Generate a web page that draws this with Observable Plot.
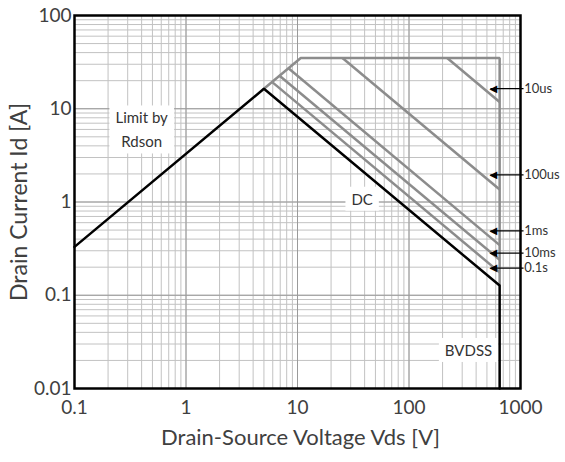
<!DOCTYPE html>
<html><head><meta charset="utf-8">
<script src="https://cdn.jsdelivr.net/npm/d3@7"></script>
<script src="https://cdn.jsdelivr.net/npm/@observablehq/plot@0.6"></script>
<style>body{margin:0;background:#fff} svg{display:block}</style>
</head><body><div id="chart"></div>
<script>
// axis ticks
const xTicks = [0.1, 1, 10, 100, 1000];
const xTickLabels = ["0.1", "1", "10", "100", "1000"];
const yTicks = [0.01, 0.1, 1, 10, 100];
const yTickLabels = ["0.01", "0.1", "1", "10", "100"];

// DC boundary (black): Rdson limit, power limit, BVDSS
const dcVds = [0.1, 5.0, 650, 650];
const dcId = [0.33, 16.4, 0.127, 0.01];

// pulsed envelope (gray): Rdson extension, Id pulse limit, BVDSS
const envVds = [5.0, 10.7, 650, 650];
const envId = [16.4, 35, 35, 0.127];

// single pulse power-limit lines
const pulseNames = ["10us", "100us", "1ms", "10ms", "0.1s"];
const pulseStartVds = [220, 25.3, 8.3, 6.9, 5.9];
const pulseStartId = [35, 35, 27.2, 22.6, 19.4];
const pulseEndVds = [650, 650, 650, 650, 650];
const pulseEndId = [11.8, 1.36, 0.345, 0.24, 0.176];

// callouts for pulse labels
const calloutTipVds = [537, 537, 537, 537, 537];
const calloutTailVds = [1065, 1065, 1065, 1065, 1065];
const calloutTextVds = [1080, 1080, 1080, 1080, 1080];
const calloutId = [16.4, 1.95, 0.49, 0.283, 0.195];

// in-plot notes
const noteTexts = ["Limit by\nRdson", "DC", "BVDSS"];
const noteVds = [0.4, 38, 342];
const noteId = [6.25, 1.13, 0.027];

const idx = (a) => a.map((_, i) => i);
const xMinor = d3.scaleLog().domain([0.1, 1000]).ticks();
const yMinor = d3.scaleLog().domain([0.01, 100]).ticks();

const plot = Plot.plot({
  width: 565,
  height: 462,
  marginLeft: 74,
  marginRight: 45,
  marginTop: 15,
  marginBottom: 74,
  style: {color: "#404040", fontFamily: "Lato, sans-serif", background: "white"},
  x: {type: "log", domain: [0.1, 1000]},
  y: {type: "log", domain: [0.01, 100]},
  marks: [
    Plot.ruleX(xMinor, {stroke: "#c2c2c2", strokeWidth: 1}),
    Plot.ruleY(yMinor, {stroke: "#c2c2c2", strokeWidth: 1}),
    Plot.ruleX(xTicks, {stroke: "#9a9a9a", strokeWidth: 1}),
    Plot.ruleY(yTicks, {stroke: "#9a9a9a", strokeWidth: 1}),
    Plot.axisX({ticks: xTicks, tickFormat: d => xTickLabels[xTicks.indexOf(d)], tickSize: 0, tickPadding: 12, fontSize: 19, label: null}),
    Plot.axisY({ticks: yTicks, tickFormat: d => yTickLabels[yTicks.indexOf(d)], tickSize: 0, tickPadding: 3, fontSize: 19, label: null}),
    Plot.text(["Drain-Source Voltage Vds [V]"], {frameAnchor: "bottom", textAnchor: "middle", lineAnchor: "middle", dy: 49, dx: 3, fontSize: 22, fill: "#404040"}),
    Plot.text(["Drain Current Id [A]"], {frameAnchor: "left", textAnchor: "middle", lineAnchor: "middle", rotate: -90, dx: -55, fontSize: 23, fill: "#404040"}),
    Plot.text(idx(noteTexts), {x: i => noteVds[i], y: i => noteId[i], text: i => noteTexts[i], fontSize: 15, lineHeight: 1.6, fill: "#333"}),
    Plot.line(idx(envVds), {x: i => envVds[i], y: i => envId[i], stroke: "#8c8c8c", strokeWidth: 2.5, strokeLinejoin: "miter"}),
    Plot.link(idx(pulseNames), {x1: i => pulseStartVds[i], y1: i => pulseStartId[i], x2: i => pulseEndVds[i], y2: i => pulseEndId[i], stroke: "#8c8c8c", strokeWidth: 2.5}),
    Plot.line(idx(dcVds), {x: i => dcVds[i], y: i => dcId[i], stroke: "#000", strokeWidth: 2.5, strokeLinejoin: "miter"}),
    Plot.link(idx(pulseNames), {x1: i => calloutTipVds[i], y1: i => calloutId[i], x2: i => calloutTailVds[i], y2: i => calloutId[i], stroke: "#000", strokeWidth: 1.2}),
    Plot.text(idx(pulseNames), {x: i => calloutTipVds[i], y: i => calloutId[i], text: () => "\u25C0", textAnchor: "start", dx: -1, fontSize: 10, fontFamily: "DejaVu Sans", fill: "#000"}),
    Plot.text(idx(pulseNames), {x: i => calloutTextVds[i], y: i => calloutId[i], text: i => pulseNames[i], textAnchor: "start", fontSize: 13, fill: "#333"}),
    Plot.frame({stroke: "#000", strokeWidth: 2.5})
  ]
});
document.getElementById("chart").append(plot);
// white boxes behind in-plot notes
const noteKeys = noteTexts.map(s => s.replace(/\n/g, ""));
plot.querySelectorAll("text").forEach(t => {
  if (!noteKeys.includes(t.textContent.trim())) return;
  const b = t.getBBox();
  const r = document.createElementNS("http://www.w3.org/2000/svg", "rect");
  const px = 6, py = 3;
  r.setAttribute("x", b.x - px);
  r.setAttribute("y", b.y - py);
  r.setAttribute("width", b.width + 2 * px);
  r.setAttribute("height", b.height + 2 * py);
  r.setAttribute("fill", "white");
  const tr = t.getAttribute("transform");
  if (tr) r.setAttribute("transform", tr);
  t.parentNode.insertBefore(r, t);
});
</script>
</body></html>
